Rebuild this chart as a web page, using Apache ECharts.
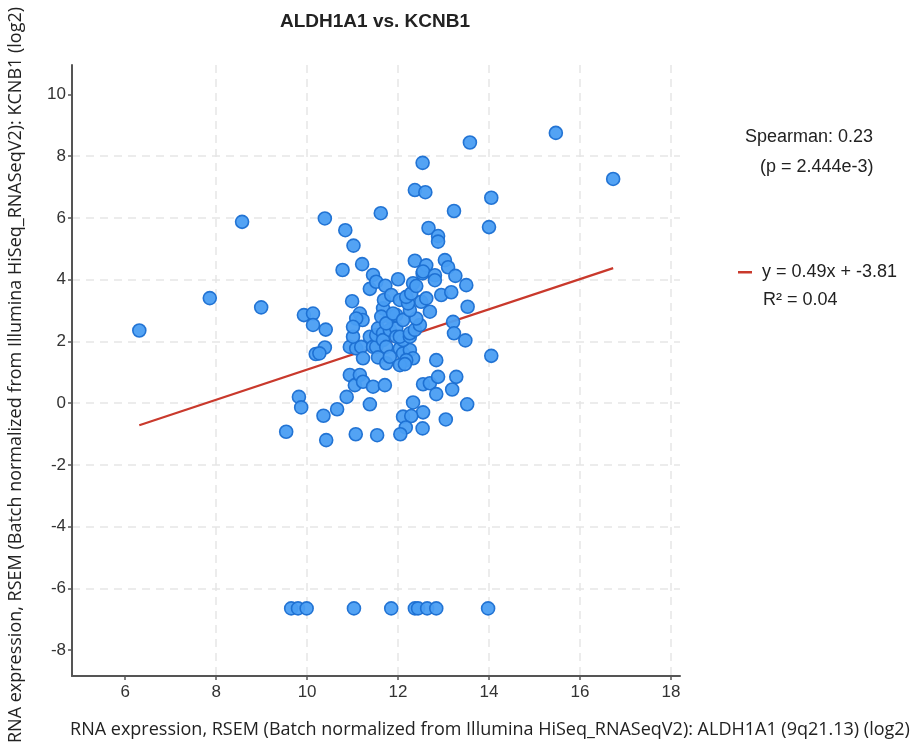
<!DOCTYPE html>
<html>
<head>
<meta charset="utf-8">
<script src="https://cdn.jsdelivr.net/npm/echarts@6/dist/echarts.min.js"></script>
<style>html,body{margin:0;padding:0;background:#fff}#c{width:917px;height:747px}</style>
</head>
<body>
<div id="c"></div>
<script>
// ALDH1A1 expression (x) vs KCNB1 expression (y)
var xValues = [6.31,7.86,8.57,8.99,9.54,9.82,9.87,9.93,10.13,10.13,10.41,10.39,10.19,10.27,10.36,10.42,10.66,10.39,10.84,11.02,
  11.21,10.78,11.45,11.38,11.62,10.99,11.16,11.22,10.87,10.94,11.05,11.16,11.23,11.45,11.07,11.38,11.54,11.71,10.94,11.08,
  11.19,11.23,11.01,11.08,11.01,11.38,11.45,11.52,11.56,11.52,11.56,11.67,11.67,11.74,11.74,11.82,11.82,11.96,11.96,11.82,
  11.96,11.67,11.69,11.63,11.74,11.89,11.52,11.72,11.85,12.00,12.04,12.11,12.26,12.33,12.18,12.04,12.15,12.11,12.04,12.26,
  12.26,12.37,12.48,12.11,12.40,12.26,12.70,12.18,12.04,12.22,12.18,12.29,12.51,12.62,12.33,12.40,12.54,12.37,12.62,12.55,
  12.81,12.81,13.03,13.10,13.26,13.50,12.95,13.17,13.53,13.21,13.23,13.48,14.05,12.84,12.55,12.70,12.88,12.84,13.28,13.19,
  13.52,12.33,12.55,12.11,12.29,12.17,12.05,12.54,13.05,12.37,12.60,12.54,13.58,14.05,13.23,14.00,12.67,12.88,12.88,15.47,
  16.73,
  9.65,9.80,9.99,11.03,11.85,12.37,12.44,12.64,12.84,13.98];
var yValues = [2.35,3.40,5.87,3.10,-0.93,0.20,-0.14,2.85,2.90,2.53,2.38,1.80,1.59,1.61,-0.41,-1.20,-0.20,5.98,5.60,5.10,
  4.50,4.31,4.15,3.70,6.15,3.30,2.90,2.69,0.20,0.91,0.58,0.91,0.69,0.53,-1.01,-0.04,-1.04,0.58,1.82,1.77,
  1.82,1.45,2.15,2.74,2.47,2.15,1.82,1.82,1.48,2.20,2.42,2.26,2.04,1.82,1.29,1.50,2.37,2.42,2.15,2.80,
  2.85,3.07,3.34,2.80,2.58,2.90,3.93,3.80,3.50,4.01,1.77,1.61,1.72,1.45,1.39,1.23,1.26,2.04,2.15,2.15,
  2.26,2.37,2.53,2.69,2.74,3.01,2.96,3.39,3.34,3.23,3.44,3.55,3.28,3.39,3.88,3.79,4.20,4.61,4.46,4.26,
  4.14,3.98,4.63,4.40,4.12,3.82,3.50,3.59,3.12,2.63,2.26,2.03,1.53,1.39,0.61,0.64,0.85,0.29,0.85,0.44,
  -0.04,0.02,-0.30,-0.44,-0.42,-0.79,-1.01,-0.82,-0.53,6.90,6.83,7.78,8.44,6.65,6.22,5.70,5.67,5.41,5.23,8.75,
  7.26,
  -6.65,-6.65,-6.65,-6.65,-6.65,-6.65,-6.65,-6.65,-6.65,-6.65];
// regression line end points (y = 0.49x + -3.81) as drawn
var fitX = [6.31, 16.73];
var fitY = [-0.72, 4.37];
var xTicks = [6, 8, 10, 12, 14, 16, 18];
var yTicks = [-8, -6, -4, -2, 0, 2, 4, 6, 8, 10];
var titleText = 'ALDH1A1 vs. KCNB1';
var xName = 'RNA expression, RSEM (Batch normalized from Illumina HiSeq_RNASeqV2): ALDH1A1 (9q21.13) (log2)';
var yName = 'RNA expression, RSEM (Batch normalized from Illumina HiSeq_RNASeqV2): KCNB1 (log2)';
var statLines = ['Spearman: 0.23', '(p = 2.444e-3)'];
var fitLines = ['y = 0.49x + -3.81', 'R\u00b2 = 0.04'];

var points = xValues.map(function (x, i) { return [x, yValues[i]]; });
var fitData = fitX.map(function (x, i) { return [x, fitY[i]]; });

var chart = echarts.init(document.getElementById('c'));
var axisFont = {fontFamily: 'Liberation Sans, Arial, sans-serif', fontSize: 17, color: '#333'};
var nameFont = 'Open Sans, sans-serif';
var legendFont = '18px Liberation Sans, Arial, sans-serif';
chart.setOption({
  animation: false,
  grid: {left: 72, right: 237, top: 65, bottom: 71, containLabel: false},
  xAxis: {
    type: 'value', min: 4.83, max: 18.2, splitNumber: 7,
    axisLine: {show: true, onZero: false, lineStyle: {color: '#555', width: 2}},
    axisTick: {show: true, length: 4, lineStyle: {color: '#555', width: 1.5}, customValues: xTicks},
    axisLabel: Object.assign({margin: 8, customValues: xTicks}, axisFont),
    splitLine: {show: true, showMinLine: false, showMaxLine: true, lineStyle: {color: '#e6e6e6', type: [8, 6], width: 1.5}}
  },
  yAxis: {
    type: 'value', min: -8.84, max: 10.95, splitNumber: 10,
    axisLine: {show: true, onZero: false, lineStyle: {color: '#555', width: 2}},
    axisTick: {show: true, length: 4, lineStyle: {color: '#555', width: 1.5}, customValues: yTicks},
    axisLabel: Object.assign({margin: 6, customValues: yTicks}, axisFont),
    splitLine: {show: true, showMinLine: false, showMaxLine: false, lineStyle: {color: '#e6e6e6', type: [8, 6], width: 1.5}}
  },
  series: [
    {
      type: 'scatter', data: points, symbolSize: 13,
      itemStyle: {color: '#4a9ef3', borderColor: '#1b6fd2', borderWidth: 1.6, opacity: 0.95}
    },
    {
      type: 'line', data: fitData, symbol: 'none', z: 1,
      lineStyle: {color: '#c9392c', width: 2.2}
    }
  ],
  graphic: [
    {type: 'text', style: {text: titleText, x: 375, y: 22, align: 'center', verticalAlign: 'middle', font: 'bold 19px Liberation Sans, Arial, sans-serif', fill: '#222'}},
    {type: 'text', style: {text: xName, x: 490, y: 730, align: 'center', verticalAlign: 'middle', font: '18px ' + nameFont, fill: '#222'}},
    {type: 'text', style: {text: yName, x: 0, y: 0, align: 'center', verticalAlign: 'middle', font: '18px ' + nameFont, fill: '#222'}, x: 16, y: 375, rotation: Math.PI / 2},
    {type: 'text', style: {text: statLines[0], x: 745, y: 137, align: 'left', verticalAlign: 'middle', font: legendFont, fill: '#222'}},
    {type: 'text', style: {text: statLines[1], x: 760, y: 167, align: 'left', verticalAlign: 'middle', font: legendFont, fill: '#222'}},
    {type: 'rect', shape: {x: 738, y: 271, width: 14, height: 2.5}, style: {fill: '#c9392c'}},
    {type: 'text', style: {text: fitLines[0], x: 762, y: 272, align: 'left', verticalAlign: 'middle', font: legendFont, fill: '#222'}},
    {type: 'text', style: {text: fitLines[1], x: 763, y: 300, align: 'left', verticalAlign: 'middle', font: legendFont, fill: '#222'}}
  ]
});
</script>
</body>
</html>
